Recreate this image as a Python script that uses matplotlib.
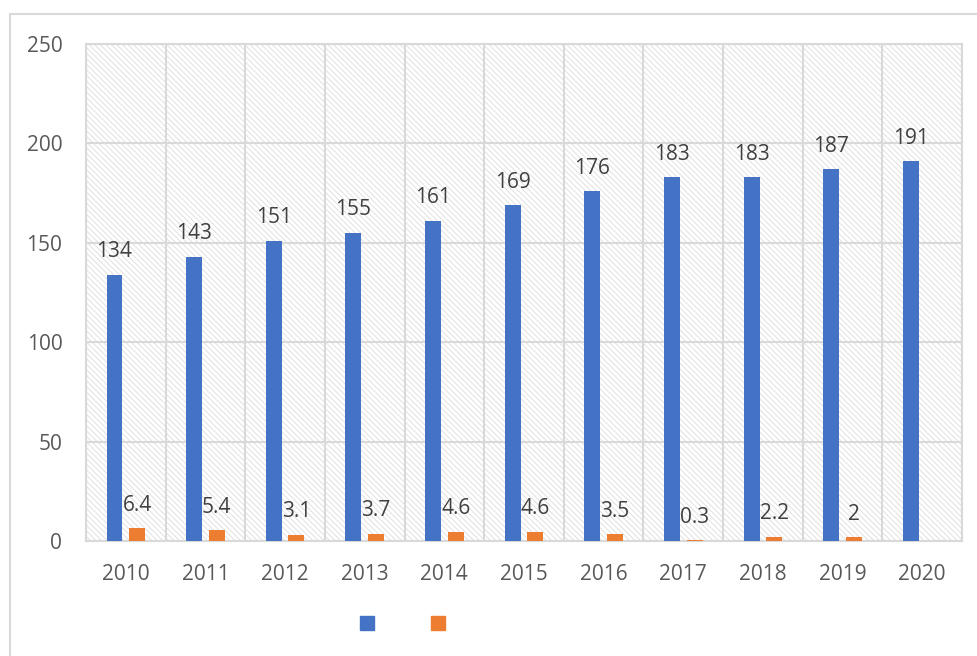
import matplotlib
matplotlib.use("Agg")
import matplotlib.pyplot as plt
from matplotlib.patches import Rectangle, Patch
import numpy as np

plt.rcParams['font.family'] = ['Open Sans', 'DejaVu Sans']
plt.rcParams['hatch.linewidth'] = 0.6
plt.rcParams['hatch.color'] = '#dcdcdc'

# data
years = ['2010', '2011', '2012', '2013', '2014', '2015', '2016', '2017', '2018', '2019', '2020']
serie_azul = [134, 143, 151, 155, 161, 169, 176, 183, 183, 187, 191]
serie_naranja = [6.4, 5.4, 3.1, 3.7, 4.6, 4.6, 3.5, 0.3, 2.2, 2, None]
y_ticks = [0, 50, 100, 150, 200, 250]

azul = '#4472c4'
naranja = '#ed7d31'
grid_c = '#d9d9d9'

fig = plt.figure(figsize=(9.77, 6.56), dpi=100)
ax = fig.add_axes([0.088, 0.1753, 0.8966, 0.7577])

# hatched background like the excel chart
ax.patch.set_facecolor('white')
ax.patch.set_hatch('\\\\\\\\\\\\')
ax.patch.set_edgecolor('#dcdcdc')

x = np.arange(len(years))
w = 0.2
off = 0.142

b1 = ax.bar(x - off, serie_azul, w, color=azul, zorder=3)
nar_x = [xi + off for xi, v in zip(x, serie_naranja) if v is not None]
nar_v = [v for v in serie_naranja if v is not None]
b2 = ax.bar(nar_x, nar_v, w, color=naranja, zorder=3)

for xi, v in zip(x - off, serie_azul):
    ax.annotate(str(v), (xi, v), xytext=(0, 16.5), textcoords='offset points',
                ha='center', va='center', fontsize=15, color='#404040', zorder=4)
for xi, v in zip(nar_x, nar_v):
    lab = ('%g' % v)
    ax.annotate(lab, (xi, v), xytext=(0, 16.5), textcoords='offset points',
                ha='center', va='center', fontsize=15, color='#404040', zorder=4)

ax.set_xlim(-0.5, len(years) - 0.5)
ax.set_ylim(0, 250)
ax.set_yticks(y_ticks)
ax.set_xticks(x)
ax.set_xticklabels(years)

# gridlines: horizontal at ticks, vertical at category borders
for yv in y_ticks:
    ax.axhline(yv, color=grid_c, lw=1.5, zorder=1)
for xb in np.arange(-0.5, len(years), 1.0):
    ax.axvline(xb, color=grid_c, lw=1.5, zorder=1)

for s in ax.spines.values():
    s.set_color(grid_c)
    s.set_linewidth(1.5)
ax.tick_params(axis='both', length=0, labelsize=15, labelcolor='#595959')
ax.tick_params(axis='y', pad=17)
ax.tick_params(axis='x', pad=16.5)

# legend without text
handles = [Patch(color=azul), Patch(color=naranja)]
fig.legend(handles, [' ', ' '], ncol=2, loc='center', bbox_to_anchor=(0.418, 0.047),
           frameon=False, handlelength=0.65, handleheight=0.65, columnspacing=2.2,
           handletextpad=0.3, fontsize=15)

# outer chart border
fig.patches.append(Rectangle((10 / 977, -0.05), 1.0, 1 - 14 / 656 + 0.05,
                             transform=fig.transFigure, fill=False,
                             edgecolor=grid_c, lw=1.5, zorder=0))

fig.savefig('out.png', dpi=100)
